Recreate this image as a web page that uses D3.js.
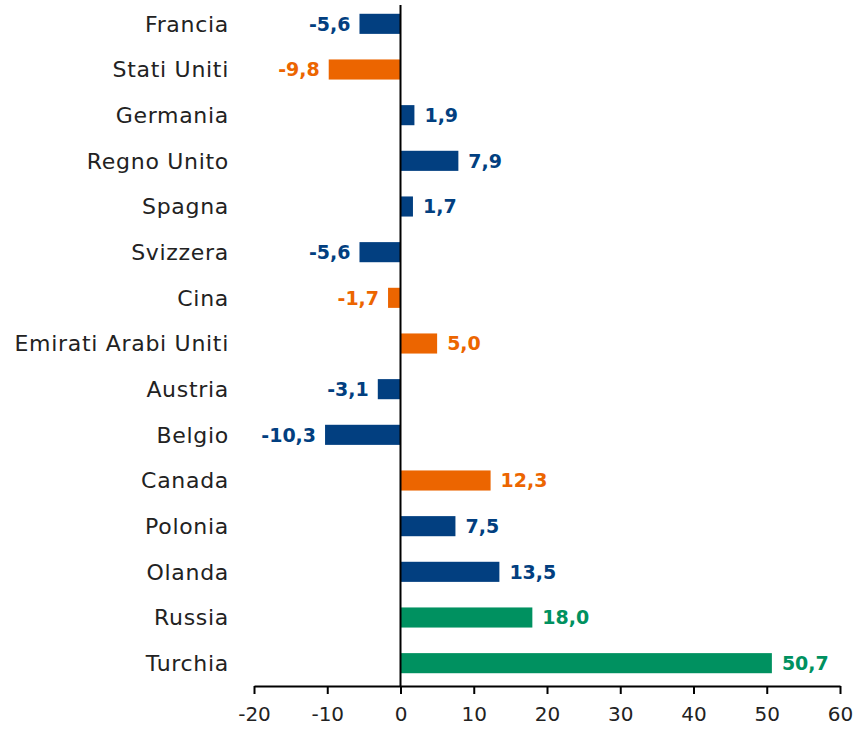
<!DOCTYPE html>
<html><head><meta charset="utf-8">
<script src="https://cdn.jsdelivr.net/npm/d3@7"></script>
<style>body{margin:0;background:#fff}svg{display:block}</style>
</head><body>
<svg id="c" width="855" height="731"></svg>
<script>
const categories = ["Francia","Stati Uniti","Germania","Regno Unito","Spagna","Svizzera","Cina","Emirati Arabi Uniti","Austria","Belgio","Canada","Polonia","Olanda","Russia","Turchia"];
const values = [-5.6,-9.8,1.9,7.9,1.7,-5.6,-1.7,5.0,-3.1,-10.3,12.3,7.5,13.5,18.0,50.7];
const groups = ["b","o","b","b","b","b","o","o","b","b","o","b","b","g","g"];
const tickValues = [-20,-10,0,10,20,30,40,50,60];
const colors = {b:"#023F80", o:"#EC6500", g:"#009160"};

const svg = d3.select("#c");
const font = "'DejaVu Sans', sans-serif";
const x = d3.scaleLinear().domain([-20,60]).range([254,840]);
const y = d3.scaleBand().domain(categories).range([1,686]).paddingInner(0.56).paddingOuter(0.28);

svg.selectAll("rect.bar").data(categories).join("rect")
  .attr("x",(d,i)=>x(Math.min(0,values[i])))
  .attr("width",(d,i)=>Math.abs(x(values[i])-x(0)))
  .attr("y",d=>y(d)).attr("height",y.bandwidth())
  .attr("fill",(d,i)=>colors[groups[i]]);

svg.selectAll("text.val").data(categories).join("text")
  .attr("x",(d,i)=>values[i]<0 ? x(values[i])-9 : x(values[i])+10)
  .attr("y",d=>y(d)+y.bandwidth()/2)
  .attr("dy","0.36em")
  .attr("text-anchor",(d,i)=>values[i]<0?"end":"start")
  .attr("font-family",font).attr("font-weight","bold").attr("font-size",19)
  .attr("fill",(d,i)=>colors[groups[i]])
  .text((d,i)=>values[i].toFixed(1).replace(".",","));

svg.selectAll("text.cat").data(categories).join("text")
  .attr("x",229).attr("y",d=>y(d)+y.bandwidth()/2).attr("dy","0.36em")
  .attr("text-anchor","end").attr("font-family",font).attr("font-size",22)
  .attr("letter-spacing","0.7px")
  .attr("fill","#222").text(d=>d);

// zero line
svg.append("line").attr("x1",x(0)).attr("x2",x(0)).attr("y1",5).attr("y2",686)
  .attr("stroke","#000").attr("stroke-width",2);

const ax = svg.append("g").attr("transform","translate(0,686)")
  .call(d3.axisBottom(x).tickValues(tickValues).tickSize(8).tickSizeOuter(0).tickFormat(d=>d));
ax.select(".domain").attr("stroke","#000").attr("stroke-width",2);
ax.selectAll(".tick line").attr("stroke","#000").attr("stroke-width",2);
ax.selectAll(".tick text").attr("font-family",font).attr("font-size",20).attr("fill","#222").attr("dy","1.2em");
</script>
</body></html>
